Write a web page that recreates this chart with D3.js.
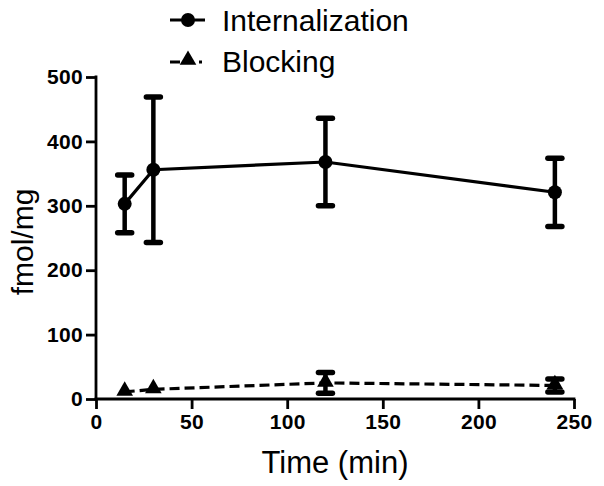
<!DOCTYPE html>
<html><head><meta charset="utf-8">
<script src="https://cdn.jsdelivr.net/npm/d3@7"></script>
<style>body{margin:0;background:#fff}svg{display:block}</style>
</head><body>
<svg id="c" width="604" height="486"></svg>
<script>
const times = [15, 30, 120, 240];
const internalization = [303, 356, 368, 321];
const internalizationErr = [45, 113, 68, 53];
const blocking = [11, 15, 25, 21];
const blockingErr = [0, 0, 16, 10];
const xTicks = [0, 50, 100, 150, 200, 250];
const yTicks = [0, 100, 200, 300, 400, 500];
const seriesNames = ["Internalization", "Blocking"];

const svg = d3.select("#c");
const x = d3.scaleLinear().domain([0, 250]).range([96, 574]);
const y = d3.scaleLinear().domain([0, 500]).range([399, 77]);
const font = "'Liberation Sans', Arial, sans-serif";

// axes
const xa = svg.append("g").attr("transform", "translate(0,399)")
  .call(d3.axisBottom(x).tickValues(xTicks).tickSize(10).tickPadding(5).tickSizeOuter(0));
const ya = svg.append("g").attr("transform", "translate(96,0)")
  .call(d3.axisLeft(y).tickValues(yTicks).tickSize(10).tickPadding(3).tickSizeOuter(0));
[xa, ya].forEach(a => {
  a.attr("font-size", null).attr("font-family", null);
  a.select(".domain").attr("stroke", "#000").attr("stroke-width", 2.8);
  a.selectAll(".tick line").attr("stroke", "#000").attr("stroke-width", 2.8);
  a.selectAll(".tick text").attr("fill", "#000")
    .style("font-family", font).style("font-weight", "bold").style("font-size", "21px").style("letter-spacing", "0.3px");
});
xa.select(".domain").attr("d", `M${x(0)-1.4},0H${x(250)+1.4}`);
ya.select(".domain").attr("d", `M0,${y(500)-1.4}V${y(0)+1.4}`);

// axis titles
svg.append("text").attr("x", (x(0)+x(250))/2).attr("y", 473).attr("text-anchor", "middle")
  .style("font-family", font).style("font-size", "31px").text("Time (min)");
svg.append("text").attr("transform", `translate(33,${(y(0)+y(500))/2+4}) rotate(-90)`)
  .attr("text-anchor", "middle").style("font-family", font).style("font-size", "30px").text("fmol/mg");

const line = d3.line().x(d => x(d[0])).y(d => y(d[1]));
const tri = d3.symbol().type(d3.symbolTriangle).size(120);

function errorBars(vals, errs, capW, thick) {
  const g = svg.append("g").attr("stroke", "#000");
  times.forEach((t, i) => {
    if (!errs[i]) return;
    const cx = x(t);
    g.append("line").attr("x1", cx).attr("x2", cx).attr("y1", y(vals[i]+errs[i])).attr("y2", y(vals[i]-errs[i]))
      .attr("stroke-width", thick);
    [vals[i]+errs[i], vals[i]-errs[i]].forEach(v => {
      g.append("line").attr("x1", cx-capW/2).attr("x2", cx+capW/2).attr("y1", y(v)).attr("y2", y(v))
        .attr("stroke-width", 5.5).attr("stroke-linecap", "round");
    });
  });
}

// Internalization
svg.append("path").datum(times.map((t, i) => [t, internalization[i]])).attr("d", line)
  .attr("fill", "none").attr("stroke", "#000").attr("stroke-width", 3.2);
errorBars(internalization, internalizationErr, 14, 4.5);
svg.append("g").selectAll("circle").data(times).join("circle")
  .attr("cx", d => x(d)).attr("cy", (d, i) => y(internalization[i])).attr("r", 7).attr("fill", "#000");

// Blocking
svg.append("path").datum(times.map((t, i) => [t, blocking[i]])).attr("d", line)
  .attr("fill", "none").attr("stroke", "#000").attr("stroke-width", 3.2).attr("stroke-dasharray", "10,5");
errorBars(blocking, blockingErr, 14, 4.5);
svg.append("g").selectAll("path").data(times).join("path")
  .attr("d", tri).attr("transform", (d, i) => `translate(${x(d)},${y(blocking[i])-1})`).attr("fill", "#000");

// Legend
const lg = svg.append("g");
lg.append("line").attr("x1", 170).attr("x2", 205).attr("y1", 20).attr("y2", 20).attr("stroke", "#000").attr("stroke-width", 3.2);
lg.append("circle").attr("cx", 188).attr("cy", 20).attr("r", 7).attr("fill", "#000");
lg.append("line").attr("x1", 170).attr("x2", 205).attr("y1", 62).attr("y2", 62).attr("stroke", "#000").attr("stroke-width", 3.2)
  .attr("stroke-dasharray", "10,5,0,14,3,10");
lg.append("path").attr("d", tri).attr("transform", "translate(188,60)").attr("fill", "#000");
lg.selectAll("text").data(seriesNames).join("text")
  .attr("x", 222).attr("y", (d, i) => 31 + i * 41)
  .style("font-family", font).style("font-size", "30px").text(d => d);
</script>
</body></html>
